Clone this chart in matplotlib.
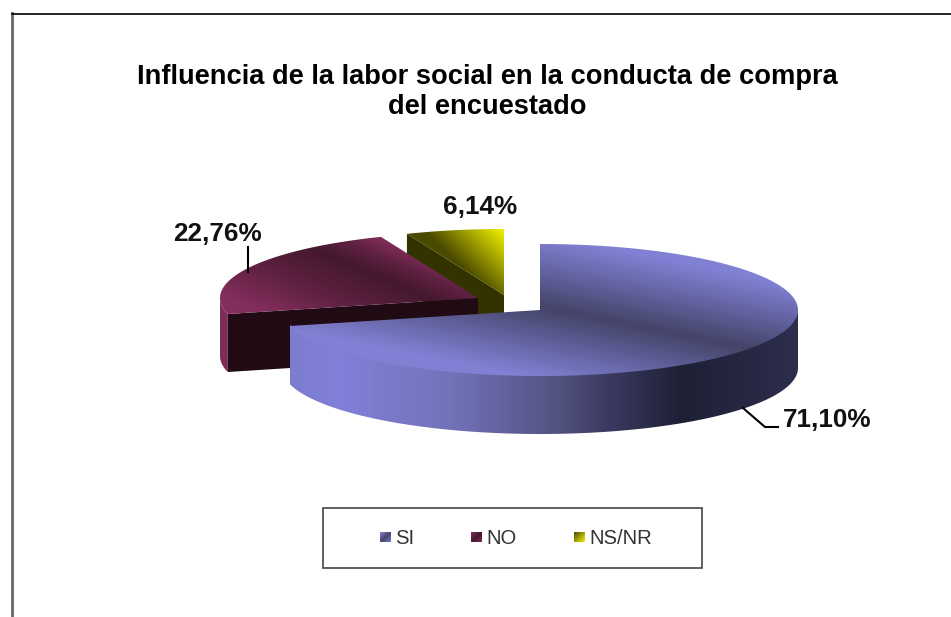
import numpy as np
import matplotlib
matplotlib.use('Agg')
import matplotlib.pyplot as plt
from matplotlib.colors import LinearSegmentedColormap
from matplotlib.patches import Polygon, Rectangle

plt.rcParams['font.family'] = ['Liberation Sans', 'DejaVu Sans']

# Data
categories = ['SI', 'NO', 'NS/NR']
values = [71.10, 22.76, 6.14]
title = 'Influencia de la labor social en la conducta de compra\ndel encuestado'

# Layout, in pixels of the 951x617 picture
centers = {'SI': (540, 310), 'NO': (478, 298), 'NS/NR': (504, 295)}
RX, RY, DEPTH = 258, 66, 58

si_top = LinearSegmentedColormap.from_list('si_top', ['#444468', '#62629f', '#8080d4'])
si_wall = LinearSegmentedColormap.from_list(
    'si_wall',
    [(0.0, '#7c7cd0'), (0.1, '#8080d8'), (0.316, '#7272ba'), (0.53, '#52527f'),
     (0.63, '#3a3a60'), (0.77, '#1e2035'), (1.0, '#2c2e4c')])
no_top = LinearSegmentedColormap.from_list('no_top', ['#45182e', '#5f2142', '#842e5c'])
ns_top = LinearSegmentedColormap.from_list('ns_top', ['#f2f200', '#a0a000', '#4a4a00'])


def rim(center, angles):
    # angles run clockwise from 12 o'clock, y grows downwards
    rad = np.radians(angles)
    return center[0] + RX * np.sin(rad), center[1] - RY * np.cos(rad)


def gradient_fill(ax, poly, func, cmap, zorder):
    xs, ys = poly[:, 0], poly[:, 1]
    x0, x1, y0, y1 = xs.min(), xs.max(), ys.min(), ys.max()
    grid_x, grid_y = np.meshgrid(np.linspace(x0, x1, 300), np.linspace(y0, y1, 200))
    img = ax.imshow(func(grid_x, grid_y), extent=(x0, x1, y1, y0), cmap=cmap, vmin=0, vmax=1,
                    aspect='auto', zorder=zorder, interpolation='bilinear')
    img.set_clip_path(Polygon(poly, closed=True, transform=ax.transData))


def si_shade(x, y):
    return np.clip(np.abs(y - (307 + 0.2 * (x - 540))) / 72, 0, 1)


def no_shade(x, y):
    d = y - (257 + 0.42 * (x - 333))
    return np.clip(np.where(d < 0, -d / 40, d / 85), 0, 1)


def ns_shade(x, y):
    return np.clip(((504 - x) + (y - 230)) / 80, 0, 1)


fig = plt.figure(figsize=(9.51, 6.17), dpi=100)
ax = fig.add_axes([0, 0, 1, 1])

# Slice angles from the values
edges = np.concatenate([[0], np.cumsum(values) * 3.6])
angles = {c: (edges[i], edges[i + 1]) for i, c in enumerate(categories)}

# NS/NR, at the back
c = centers['NS/NR']
a0, a1 = angles['NS/NR']
t = np.linspace(a0, a1, 40)
px, py = rim(c, t)
top = np.column_stack([np.r_[c[0], px], np.r_[c[1], py]])
wall_x, wall_y = rim(c, a0)
ax.add_patch(Polygon([(wall_x, wall_y), c, (c[0], c[1] + DEPTH), (wall_x, wall_y + DEPTH)],
                     closed=True, fc='#333300', ec='none', zorder=1))
gradient_fill(ax, top, ns_shade, ns_top, 2)

# NO
c = centers['NO']
a0, a1 = angles['NO']
t = np.linspace(a0, 270, 30)
px, py = rim(c, t)
wall = np.column_stack([np.r_[px, px[::-1]], np.r_[py, py[::-1] + DEPTH]])
ax.add_patch(Polygon(wall, closed=True, fc='#7f2c58', ec='none', zorder=3))
wall_x, wall_y = rim(c, a0)
ax.add_patch(Polygon([c, (wall_x, wall_y), (wall_x, wall_y + DEPTH), (c[0], c[1] + DEPTH)],
                     closed=True, fc='#200a14', ec='none', zorder=4))
t = np.linspace(a0, a1, 100)
px, py = rim(c, t)
top = np.column_stack([np.r_[c[0], px], np.r_[c[1], py]])
gradient_fill(ax, top, no_shade, no_top, 5)

# SI, in front. The wall starts a bit under the top so no seam shows
c = centers['SI']
a0, a1 = angles['SI']
t = np.linspace(90, a1, 200)
px, py = rim(c, t)
wall = np.column_stack([np.r_[px, px[::-1]], np.r_[py - 1.5, py[::-1] + DEPTH]])
gradient_fill(ax, wall, lambda x, y: (x - 289) / (798 - 289), si_wall, 6)
t = np.linspace(a0, a1, 300)
px, py = rim(c, t)
top = np.column_stack([np.r_[c[0], px], np.r_[c[1], py]])
gradient_fill(ax, top, si_shade, si_top, 7)

# Data labels with leader lines
labels = [f'{v:.2f}%'.replace('.', ',') for v in values]
label_pos = {'SI': (827, 420), 'NO': (218, 234), 'NS/NR': (480, 207)}
for cat, lab in zip(categories, labels):
    ax.text(*label_pos[cat], lab, fontsize=18.8, fontweight='bold', color='#111111',
            ha='center', va='center', zorder=10)
ax.plot([743, 765, 778], [408, 427, 427], color='black', lw=1.5, zorder=9)
ax.plot([248, 248], [247, 272], color='black', lw=1.5, zorder=9)

# Title
ax.text(487, 92.5, title, fontsize=19.6, fontweight='bold', color='black', ha='center', va='center',
        linespacing=1.2)

# Legend
ax.add_patch(Rectangle((323, 508), 379, 60, fc='white', ec='#444444', lw=1.2, zorder=8))
legend_x = {'SI': 380, 'NO': 471, 'NS/NR': 574}
legend_cm = {'SI': ['#8484dc', '#45456f', '#7a7acb'], 'NO': ['#842e5c', '#45182e', '#7a2b55'],
             'NS/NR': ['#4a4a00', '#a0a000', '#f2f200']}
for cat in categories:
    x = legend_x[cat]
    cm = LinearSegmentedColormap.from_list('leg', legend_cm[cat])
    sq = np.column_stack([[x, x + 11, x + 11, x], [532, 532, 542, 542]])
    gradient_fill(ax, sq, lambda gx, gy: ((gx - x) + (gy - 532)) / 21, cm, 9)
    ax.text(x + 15, 538, cat, fontsize=14.6, color='#333333', ha='left', va='center', zorder=10)

# Chart frame, the picture is cut off on the right and at the bottom
ax.plot([12, 12], [13, 617], color='#666666', lw=2, zorder=11)
ax.plot([12, 951], [13.5, 13.5], color='black', lw=1.2, zorder=11)

ax.set_xlim(0, 951)
ax.set_ylim(617, 0)
ax.axis(False)

fig.savefig('out.png', dpi=100, facecolor='white')
